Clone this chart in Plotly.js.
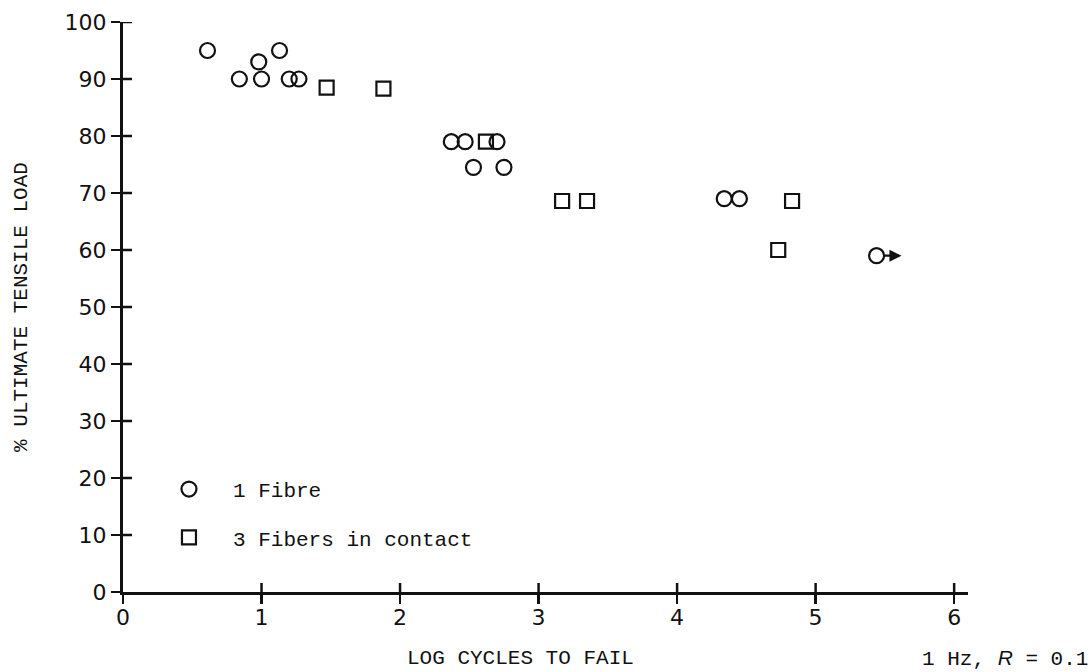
<!DOCTYPE html>
<html>
<head>
<meta charset="utf-8">
<script src="https://cdn.plot.ly/plotly-3.0.1.min.js"></script>
<style>
  html, body { margin: 0; padding: 0; background: #ffffff; }
  #chart { width: 1092px; height: 672px; }
</style>
</head>
<body>
<div id="chart"></div>
<script>
// Fatigue results: log cycles to failure vs % of ultimate tensile load
const singleFibreLogCycles = [0.61, 0.84, 0.98, 1.00, 1.13, 1.20, 1.27, 2.37, 2.47, 2.53, 2.70, 2.75, 4.34, 4.45, 5.44];
const singleFibreLoad      = [95,   90,   93,   90,   95,   90,   90,   79,   79,   74.5, 79,   74.5, 69,   69,   59];

const threeFibreLogCycles = [1.47, 1.88, 2.62, 3.17, 3.35, 4.73, 4.83];
const threeFibreLoad      = [88.5, 88.3, 79,   68.6, 68.6, 60,   68.6];

// Specimen that had not failed when the test was stopped (run-out)
const runoutIndex = 14;

const xTickValues = [0, 1, 2, 3, 4, 5, 6];
const yTickValues = [0, 10, 20, 30, 40, 50, 60, 70, 80, 90, 100];

const typewriter = "'Liberation Mono', 'DejaVu Sans Mono', monospace";
const lettering = "'DejaVu Sans', 'Liberation Sans', sans-serif";
const ink = '#111111';

const traces = [
  {
    type: 'scatter', mode: 'markers',
    x: singleFibreLogCycles, y: singleFibreLoad,
    name: '1 Fibre', legendgroup: 'a',
    marker: { symbol: 'circle-open', size: 15, color: ink, line: { width: 2.2, color: ink } },
    cliponaxis: false, hoverinfo: 'x+y'
  },
  {
    type: 'scatter', mode: 'markers',
    x: threeFibreLogCycles, y: threeFibreLoad,
    name: '3 Fibers in contact', legendgroup: 'b',
    marker: { symbol: 'square-open', size: 14, color: ink, line: { width: 2.2, color: ink } },
    cliponaxis: false, hoverinfo: 'x+y'
  }
];

const runX = singleFibreLogCycles[runoutIndex];
const runY = singleFibreLoad[runoutIndex];

const axisCommon = {
  showgrid: false, zeroline: false,
  showline: true, linecolor: ink, linewidth: 3,
  ticks: 'outside', ticklen: 9, tickwidth: 2.5, tickcolor: ink,
  tickfont: { family: lettering, size: 22, color: ink }
};

// Tick marks cross the axis line: the axis draws the outer half,
// these pixel-sized segments add the inner half at each tick value.
const tickHalf = 9;
const crossTicks = [];
xTickValues.slice(1).forEach(v => crossTicks.push({
  type: 'line', xref: 'x', yref: 'y', x0: v, x1: v,
  ysizemode: 'pixel', yanchor: 0, y0: 0, y1: tickHalf,
  line: { color: ink, width: 2.5 }
}));
yTickValues.slice(1).forEach(v => crossTicks.push({
  type: 'line', xref: 'x', yref: 'y', y0: v, y1: v,
  xsizemode: 'pixel', xanchor: 0, x0: 0, x1: tickHalf,
  line: { color: ink, width: 2.5 }
}));

const layout = {
  width: 1092, height: 672,
  margin: { l: 123, r: 124, t: 22, b: 80 },
  paper_bgcolor: '#ffffff', plot_bgcolor: '#ffffff',
  showlegend: true,
  legend: {
    x: 0.026, y: 0.216, xanchor: 'left', yanchor: 'top',
    itemwidth: 78, tracegroupgap: 18,
    font: { family: typewriter, size: 21, color: ink },
    bgcolor: 'rgba(0,0,0,0)'
  },
  xaxis: Object.assign({}, axisCommon, {
    range: [0, 6.1], tickvals: xTickValues, ticktext: xTickValues.map(String),
    ticklabelstandoff: -5
  }),
  yaxis: Object.assign({}, axisCommon, {
    range: [0, 100], tickvals: yTickValues, ticktext: yTickValues.map(String),
    ticklabelstandoff: 0,
    title: { text: '% ULTIMATE TENSILE LOAD', font: { family: typewriter, size: 21, color: ink }, standoff: 32 }
  }),
  shapes: crossTicks,
  annotations: [
    {
      xref: 'paper', yref: 'paper', x: 0.47, y: -0.117, xanchor: 'center', yanchor: 'middle',
      text: 'LOG CYCLES TO FAIL', showarrow: false,
      font: { family: typewriter, size: 21, color: ink }
    },
    {
      xref: 'paper', yref: 'paper', x: 1.144, y: -0.117, xanchor: 'right', yanchor: 'middle',
      text: "1 Hz, <span style=\"font-family:'Liberation Sans'\"><i>R</i></span> = 0.1", showarrow: false,
      font: { family: typewriter, size: 21, color: ink }
    },
    {
      // run-out arrow pointing to higher cycle counts
      xref: 'x', yref: 'y', axref: 'x', ayref: 'y',
      x: runX + 0.18, y: runY, ax: runX + 0.05, ay: runY,
      text: '', showarrow: true, arrowhead: 2, arrowsize: 1.1, arrowwidth: 2.2, arrowcolor: ink
    }
  ]
};

Plotly.newPlot('chart', traces, layout, { staticPlot: true, displayModeBar: false });
</script>
</body>
</html>
